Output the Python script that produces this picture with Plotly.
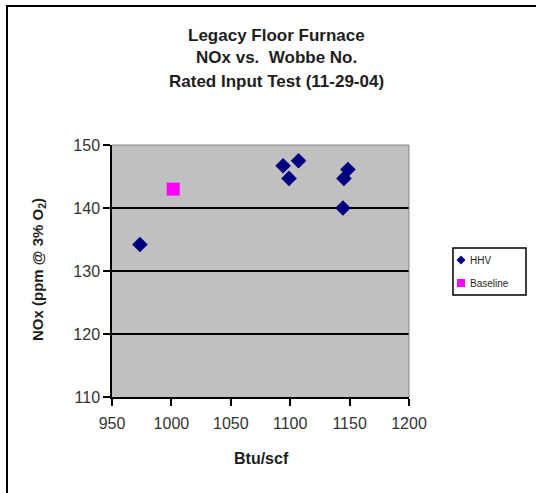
import plotly.graph_objects as go

hhv_x = [973.5, 1094, 1099, 1107, 1148.6, 1145.2, 1144.4]
hhv_y = [134.2, 146.7, 144.7, 147.5, 146.1, 144.7, 140.0]
base_x = [1001.5]
base_y = [143.0]

x_ticks = [950, 1000, 1050, 1100, 1150, 1200]
y_ticks = [110, 120, 130, 140, 150]

title_lines = ["Legacy Floor Furnace", "NOx vs.  Wobbe No.", "Rated Input Test (11-29-04)"]
legend_names = ["HHV", "Baseline"]

W, H = 536, 493
L, R, T, B = 112, 127, 145, 96
pw, ph = W - L - R, H - T - B

def px(xp):
    return (xp - L) / pw

def py(yp):
    return (H - B - yp) / ph

FONT = "Liberation Sans, Arial, sans-serif"
NAVY = "#000080"
MAG = "#ff00ff"
TXT = "#1e1e1e"

fig = go.Figure()
fig.add_trace(go.Scatter(x=hhv_x, y=hhv_y, mode="markers", name=legend_names[0],
                         marker=dict(symbol="diamond", size=12, color=NAVY)))
fig.add_trace(go.Scatter(x=base_x, y=base_y, mode="markers", name=legend_names[1],
                         marker=dict(symbol="square", size=13, color=MAG)))

annotations = []
for line, yy in zip(title_lines, [35, 58, 81]):
    annotations.append(dict(text="<b>" + line + "</b>", x=px(276), y=py(yy), xref="paper", yref="paper",
                            showarrow=False, font=dict(size=17, color=TXT),
                            xanchor="center", yanchor="middle"))
annotations += [
    dict(text="<b>Btu/scf</b>", x=px(261), y=py(458), xref="paper", yref="paper",
         showarrow=False, font=dict(size=16, color=TXT), xanchor="center", yanchor="middle"),
    dict(text="<b>NOx (ppm @ 3% O<sub>2</sub>)</b>", x=px(38), y=py(270), xref="paper", yref="paper",
         showarrow=False, textangle=-90, font=dict(size=15, color=TXT),
         xanchor="center", yanchor="middle"),
    dict(text=legend_names[0], x=px(468), y=py(260), xref="paper", yref="paper", showarrow=False,
         font=dict(size=10, color=TXT), xanchor="left", yanchor="middle"),
    dict(text=legend_names[1], x=px(468), y=py(283), xref="paper", yref="paper", showarrow=False,
         font=dict(size=10, color=TXT), xanchor="left", yanchor="middle"),
]

# legend symbol shapes (paper coords)
dcx, dcy, dh = 461, 260, 4.5
diamond_path = "M {} {} L {} {} L {} {} L {} {} Z".format(
    px(dcx), py(dcy - dh), px(dcx + dh), py(dcy), px(dcx), py(dcy + dh), px(dcx - dh), py(dcy))
scx, scy, sh = 461, 283, 4

fig.update_layout(
    width=W, height=H,
    margin=dict(l=L, r=R, t=T, b=B),
    paper_bgcolor="white",
    plot_bgcolor="#c0c0c0",
    font=dict(family=FONT, size=15, color=TXT),
    xaxis=dict(range=[950, 1200], tickvals=x_ticks, showgrid=False, zeroline=False,
               showline=True, linecolor="black", linewidth=1.5, ticks="outside",
               ticklen=7, tickcolor="black", tickwidth=1.5, ticklabelstandoff=4,
               tickfont=dict(size=16, color="#333")),
    yaxis=dict(range=[110, 150], tickvals=y_ticks, showgrid=True, gridcolor="black",
               gridwidth=1.5, zeroline=False, showline=True, linecolor="black", linewidth=1.5,
               ticks="outside", ticklen=7, tickcolor="black", tickwidth=1.5,
               tickfont=dict(size=16, color="#333")),
    showlegend=False,
    annotations=annotations,
    shapes=[
        dict(type="rect", xref="paper", yref="paper", x0=px(7), x1=px(560), y0=py(520), y1=py(6),
             line=dict(color="black", width=2), fillcolor="rgba(0,0,0,0)", layer="below"),
        dict(type="rect", xref="paper", yref="paper", x0=px(453), x1=px(526), y0=py(295), y1=py(248),
             line=dict(color="black", width=1.5), fillcolor="white"),
        dict(type="path", xref="paper", yref="paper", path=diamond_path,
             line=dict(width=0), fillcolor=NAVY),
        dict(type="rect", xref="paper", yref="paper", x0=px(scx - sh), x1=px(scx + sh),
             y0=py(scy + sh), y1=py(scy - sh), line=dict(width=0), fillcolor=MAG),
        dict(type="line", xref="paper", yref="paper", x0=0, x1=1, y0=1, y1=1,
             line=dict(color="#888", width=1)),
        dict(type="line", xref="paper", yref="paper", x0=1, x1=1, y0=0, y1=1,
             line=dict(color="#888", width=1)),
    ],
)

fig.write_html("out.html")
